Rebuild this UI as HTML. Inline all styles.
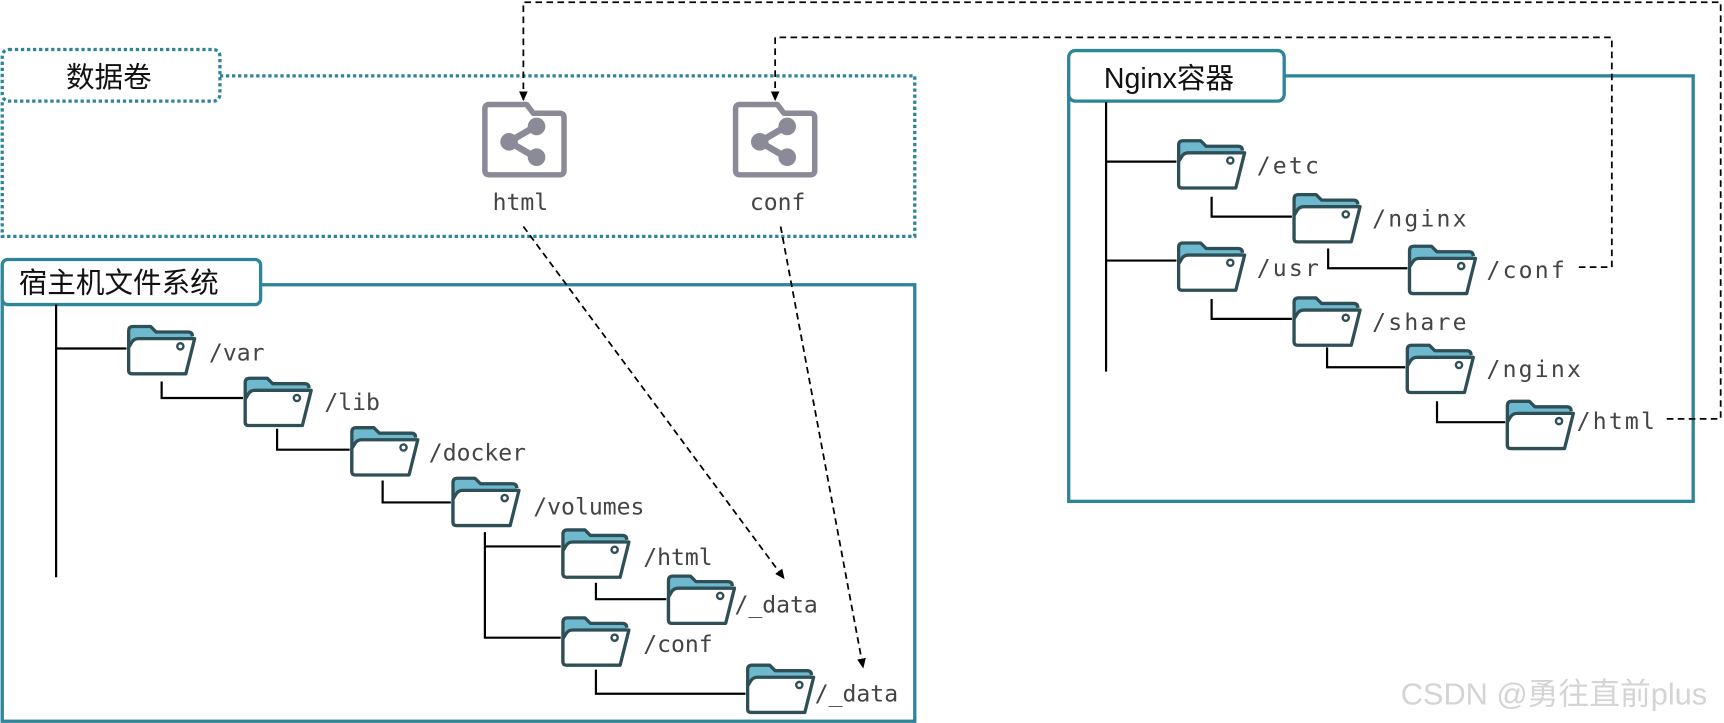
<!DOCTYPE html>
<html><head><meta charset="utf-8"><style>
html,body{margin:0;padding:0;background:#fff;}
svg{display:block;}
.m{font-family:"DejaVu Sans Mono","Liberation Mono",monospace;font-size:21px;fill:#444;}
.r{font-family:"DejaVu Sans Mono","Liberation Mono",monospace;font-size:21px;fill:#444;letter-spacing:2px;}
.t{font-family:"Liberation Sans","Noto Sans CJK SC",sans-serif;font-size:26px;fill:#111;}
</style></head><body>
<svg width="1724" height="723" viewBox="0 0 1568 657.6" xmlns="http://www.w3.org/2000/svg">
<defs>
<g id="f">
<path d="M2,20 L2,5 Q2,1 6,1 L22,1 L27,6 L56,6 Q60,6 60,10 L60,12 L10,12 Q7,12 5,15 Z" fill="#6fb9cf" stroke="none"/>
<path d="M2,42 L2,5 Q2,1 6,1 L22,1 L27,6 L56,6 Q60,6 60,10" fill="none" stroke="#2f4f57" stroke-width="3" stroke-linejoin="round"/>
<path d="M2,20 L5,15 Q7,12 11,12 L62,12 L54,44 L5,44 Q2,44 2,41 Z" fill="#fff" stroke="#2f4f57" stroke-width="3" stroke-linejoin="round"/>
<circle cx="49" cy="19" r="2.8" fill="none" stroke="#2f4f57" stroke-width="2.2"/>
</g>
<g id="v">
<path d="M6,2 L40,2 L46,10 L70,10 Q74,10 74,14 L74,62 Q74,66 70,66 L6,66 Q2,66 2,62 L2,6 Q2,2 6,2 Z" fill="none" stroke="#8a8b96" stroke-width="5" stroke-linejoin="round"/>
<line x1="48" y1="22" x2="24" y2="36" stroke="#8a8b96" stroke-width="6"/>
<line x1="24" y1="36" x2="48" y2="50" stroke="#8a8b96" stroke-width="6"/>
<circle cx="49" cy="22" r="8" fill="#8a8b96"/><circle cx="24" cy="36" r="8" fill="#8a8b96"/><circle cx="49" cy="50" r="8" fill="#8a8b96"/>
</g>
<marker id="a" markerWidth="10" markerHeight="10" refX="8" refY="5" orient="auto" markerUnits="userSpaceOnUse"><path d="M0,1 L9,5 L0,9 Z" fill="#000"/></marker>
</defs>

<path d="M200,69 L832,69 L832,215 L2,215 L2,92" fill="none" stroke="#2e8499" stroke-width="3" stroke-dasharray="3,2.5"/>
<rect x="2" y="45" width="198" height="47" rx="6" fill="#fff" stroke="#2e8499" stroke-width="3" stroke-dasharray="3,2.5"/>
<text class="t" x="60" y="79">数据卷</text>
<use href="#v" x="439" y="93"/>
<use href="#v" x="667" y="93"/>
<text class="m" x="448" y="191" fill="#333">html</text>
<text class="m" x="682" y="191" fill="#333">conf</text>

<rect x="2" y="259" width="830" height="397" fill="none" stroke="#2e8499" stroke-width="3"/>
<rect x="2" y="236" width="235" height="41" rx="5" fill="#fff" stroke="#2e8499" stroke-width="3"/>
<text class="t" x="17" y="266">宿主机文件系统</text>
<g stroke="#000" stroke-width="2" fill="none">
<path d="M51,277 L51,525 M51,317 L115,317"/>
<path d="M147,347 L147,362 L221,362"/>
<path d="M252,390 L252,409 L318,409"/>
<path d="M348,437 L348,457 L410,457"/>
<path d="M441,484 L441,580 L510,580 M441,497 L510,497"/>
<path d="M542,530 L542,545 L606,545"/>
<path d="M542,609 L542,631 L678,631"/>
</g>
<use href="#f" x="115" y="296"/><text class="m" x="190" y="328">/var</text>
<use href="#f" x="221" y="343"/><text class="m" x="295" y="373">/lib</text>
<use href="#f" x="318" y="388"/><text class="m" x="390" y="419">/docker</text>
<use href="#f" x="410" y="434"/><text class="m" x="485" y="468">/volumes</text>
<use href="#f" x="510" y="481"/><text class="m" x="585" y="514">/html</text>
<use href="#f" x="606" y="523"/><text class="m" x="668" y="557">/_data</text>
<use href="#f" x="510" y="561"/><text class="m" x="585" y="593">/conf</text>
<use href="#f" x="678" y="604"/><text class="m" x="741" y="638">/_data</text>

<rect x="972" y="69" width="568" height="387" fill="none" stroke="#2e8499" stroke-width="3"/>
<rect x="972" y="46" width="196" height="46" rx="6" fill="#fff" stroke="#2e8499" stroke-width="3"/>
<text class="t" x="1004" y="80">Nginx容器</text>
<g stroke="#000" stroke-width="2" fill="none">
<path d="M1006,93 L1006,338 M1006,147 L1070,147 M1006,237 L1070,237"/>
<path d="M1102,179 L1102,197 L1175,197"/>
<path d="M1208,226 L1208,244 L1280,244"/>
<path d="M1102,272 L1102,290 L1175,290"/>
<path d="M1207,316 L1207,334 L1278,334"/>
<path d="M1307,365 L1307,384 L1369,384"/>
</g>
<use href="#f" x="1070" y="127"/><text class="r" x="1143" y="158">/etc</text>
<use href="#f" x="1175" y="176"/><text class="r" x="1248" y="206">/nginx</text>
<use href="#f" x="1070" y="220"/><text class="r" x="1143" y="251">/usr</text>
<use href="#f" x="1280" y="223"/><text class="r" x="1352" y="253">/conf</text>
<use href="#f" x="1175" y="270"/><text class="r" x="1248" y="300">/share</text>
<use href="#f" x="1278" y="313"/><text class="r" x="1352" y="343">/nginx</text>
<use href="#f" x="1369" y="364"/><text class="r" x="1434" y="390">/html</text>

<g stroke="#000" stroke-width="1.6" fill="none" stroke-dasharray="6,4">
<path d="M1436,243 L1466,243 L1466,34 L705,34 L705,91" marker-end="url(#a)"/>
<path d="M1516,381 L1565,381 L1565,2 L476,2 L476,91" marker-end="url(#a)"/>
<path d="M476,206 L713,526" marker-end="url(#a)"/>
<path d="M710,206 L785,607" marker-end="url(#a)"/>
</g>

<text x="1274" y="641" font-family="Liberation Sans,Noto Sans CJK SC,sans-serif" font-size="28" fill="#d4d4d4">CSDN @勇往直前plus</text>
</svg>
</body></html>
